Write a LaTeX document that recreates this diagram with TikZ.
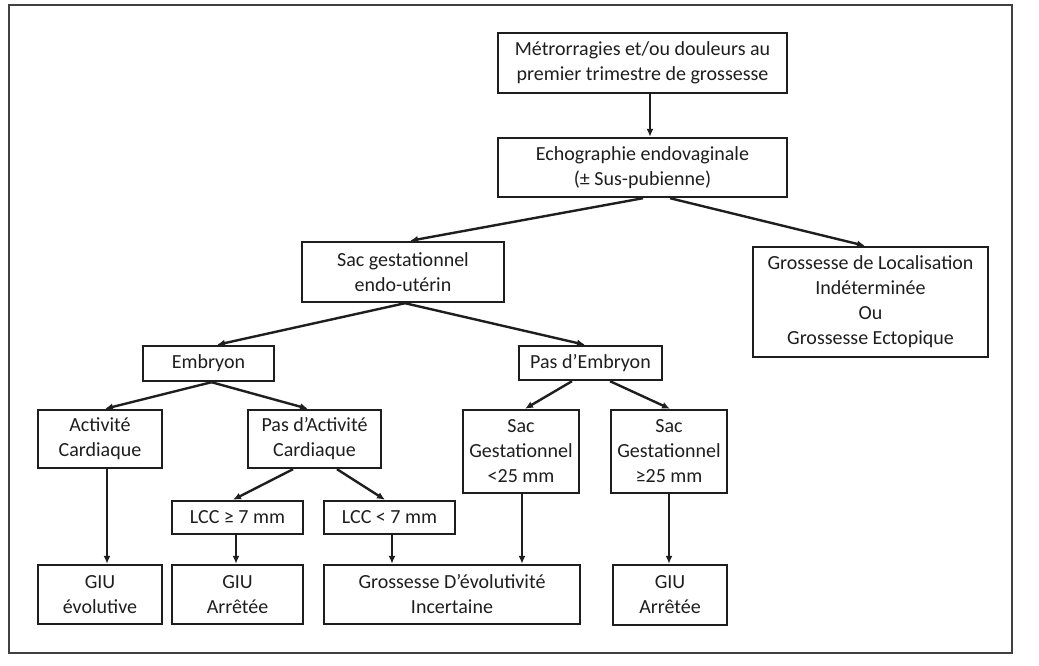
\documentclass[tikz,border=0pt]{standalone}
\usepackage{fontspec}
\setmainfont{Carlito}
\usetikzlibrary{arrows.meta}
\definecolor{ink}{HTML}{1E1E1E}
\tikzset{
  box/.style={draw=ink, line width=2.4pt, inner sep=0pt, align=center, text=ink,
    font=\fontsize{20}{25}\selectfont},
  arr/.style={draw=ink, line width=2.4pt, -{Latex[length=8pt,width=7pt]}},
}
\begin{document}
\begin{tikzpicture}[x=1pt,y=-1pt]
\useasboundingbox (0,0) rectangle (1039,666);
\draw[ink!85, line width=2pt] (9,5) rectangle (1012,653);
\node[box, minimum width=289pt, minimum height=60pt] (b1) at (642.5,63) {Métrorragies et/ou douleurs au\\premier trimestre de grossesse};
\node[box, minimum width=289pt, minimum height=59pt] (b2) at (642.5,167.5) {Echographie endovaginale\\(± Sus-pubienne)};
\node[box, minimum width=202pt, minimum height=60pt] (sac) at (403,272) {Sac gestationnel\\endo-utérin};
\node[box, minimum width=235pt, minimum height=110pt] (gli) at (870.5,302) {Grossesse de Localisation\\Indéterminée\\Ou\\Grossesse Ectopique};
\node[box, minimum width=131pt, minimum height=35pt] (emb) at (208.5,363.5) {Embryon};
\node[box, minimum width=143pt, minimum height=34pt] (pemb) at (590.5,363) {Pas d’Embryon};
\node[box, minimum width=124pt, minimum height=58pt] (act) at (100,439) {Activité\\Cardiaque};
\node[box, minimum width=133pt, minimum height=58pt] (pact) at (314.5,439) {Pas d’Activité\\Cardiaque};
\node[box, minimum width=116pt, minimum height=83pt] (sa) at (521,451.5) {Sac\\Gestationnel\\<25 mm};
\node[box, minimum width=116pt, minimum height=83pt] (sb) at (669,451.5) {Sac\\Gestationnel\\≥25 mm};
\node[box, minimum width=131pt, minimum height=33pt] (lcca) at (237.5,517.5) {LCC ≥ 7 mm};
\node[box, minimum width=131pt, minimum height=33pt] (lccb) at (389.5,517.5) {LCC < 7 mm};
\node[box, minimum width=124pt, minimum height=59pt] (giua) at (100,594.5) {GIU\\évolutive};
\node[box, minimum width=131pt, minimum height=59pt] (giub) at (237.5,594.5) {GIU\\Arrêtée};
\node[box, minimum width=256pt, minimum height=59pt] (gde) at (452,594.5) {Grossesse D’évolutivité\\Incertaine};
\node[box, minimum width=114pt, minimum height=60pt] (giuc) at (670,595) {GIU\\Arrêtée};
\draw[arr] ([xshift=7.5pt]b1.south) -- ([xshift=7.5pt]b2.north);
\draw[arr] ([xshift=0.5pt]b2.south) -- ([xshift=7pt]sac.north);
\draw[arr] ([xshift=27.5pt]b2.south) -- ([xshift=-5.5pt]gli.north);
\draw[arr] ([xshift=2pt]sac.south) -- ([xshift=8.5pt]emb.north);
\draw[arr] ([xshift=2pt]sac.south) -- ([xshift=-5.5pt]pemb.north);
\draw[arr] ([xshift=3pt]emb.south) -- ([xshift=5pt]act.north);
\draw[arr] ([xshift=3pt]emb.south) -- ([xshift=-6.5pt]pact.north);
\draw[arr] ([xshift=-18.5pt]pemb.south) -- ([xshift=4pt]sa.north);
\draw[arr] ([xshift=19.5pt]pemb.south) -- ([xshift=1pt]sb.north);
\draw[arr] ([xshift=7pt]act.south) -- ([xshift=7pt]giua.north);
\draw[arr] ([xshift=-21.5pt]pact.south) -- ([xshift=-4.5pt]lcca.north);
\draw[arr] ([xshift=22.5pt]pact.south) -- ([xshift=-4.5pt]lccb.north);
\draw[arr] ([xshift=-1.5pt]lcca.south) -- ([xshift=-1.5pt]giub.north);
\draw[arr] ([xshift=2.5pt]lccb.south) -- ([xshift=-60pt]gde.north);
\draw[arr] ([xshift=1pt]sa.south) -- ([xshift=70pt]gde.north);
\draw[arr] (sb.south) -- ([xshift=-1pt]giuc.north);
\end{tikzpicture}
\end{document}
